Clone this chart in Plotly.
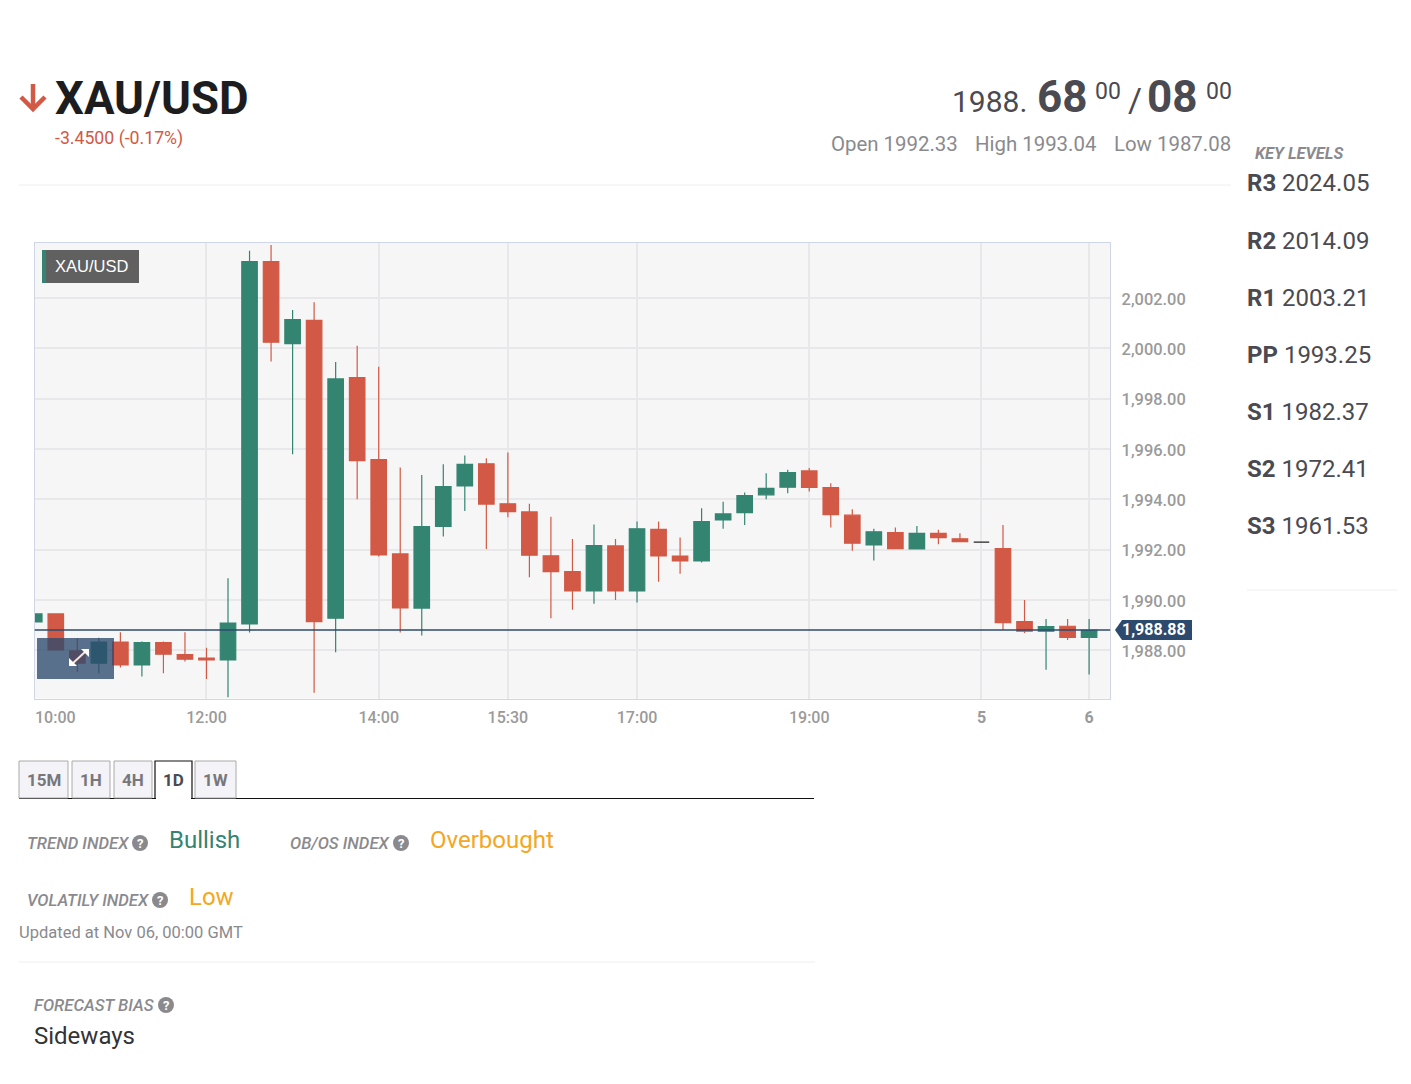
import plotly.graph_objects as go

# candle values, index 0..49 left to right
opens = [1989.13, 1989.45, 1987.98, 1987.49, 1988.33, 1987.42, 1988.31, 1987.83, 1987.69, 1987.62,
         1989.05, 2003.44, 2000.18, 2001.11, 1989.28, 1998.83, 1995.58, 1991.83, 1989.68, 1992.92,
         1994.53, 1995.41, 1993.82, 1993.50, 1991.76, 1991.13, 1990.36, 1992.15, 1990.36, 1992.81,
         1991.75, 1991.55, 1993.18, 1993.47, 1994.18, 1994.48, 1995.13, 1994.47, 1993.37, 1992.19,
         1992.68, 1992.03, 1992.65, 1992.43, 1992.30, 1992.04, 1989.14, 1988.76, 1988.96, 1988.52]
closes = [1989.45, 1988.02, 1987.49, 1988.33, 1987.42, 1988.31, 1987.85, 1987.65, 1987.62, 1989.08,
          2003.44, 2000.24, 2001.14, 1989.14, 1998.78, 1995.54, 1991.79, 1989.69, 1992.92, 1994.51,
          1995.39, 1993.81, 1993.51, 1991.78, 1991.13, 1990.36, 1992.16, 1990.36, 1992.83, 1991.75,
          1991.55, 1993.12, 1993.42, 1994.15, 1994.44, 1995.06, 1994.47, 1993.39, 1992.26, 1992.71,
          1992.04, 1992.65, 1992.48, 1992.32, 1992.30, 1989.10, 1988.76, 1988.95, 1988.52, 1988.80]
highs = [1989.78, 1989.45, 1988.48, 1988.50, 1988.72, 1988.35, 1988.35, 1988.72, 1988.11, 1990.87,
         2003.87, 2004.10, 2001.52, 2001.83, 1999.45, 2000.10, 1999.27, 1995.26, 1994.97, 1995.39,
         1995.74, 1995.63, 1995.86, 1993.82, 1993.31, 1992.42, 1993.00, 1992.42, 1993.12, 1993.12,
         1992.48, 1993.65, 1993.90, 1994.27, 1995.04, 1995.17, 1995.24, 1994.64, 1993.61, 1992.83,
         1992.88, 1992.94, 1992.79, 1992.65, 1992.30, 1992.98, 1990.00, 1989.25, 1989.25, 1989.25]
lows = [1988.89, 1988.02, 1987.15, 1987.09, 1987.32, 1986.96, 1987.09, 1987.56, 1986.86, 1986.14,
        1988.71, 1999.47, 1995.79, 1986.32, 1987.93, 1994.00, 1991.73, 1988.71, 1988.59, 1992.52,
        1993.54, 1992.03, 1993.29, 1990.91, 1989.28, 1989.61, 1989.85, 1990.00, 1989.90, 1990.73,
        1991.04, 1991.49, 1992.83, 1992.98, 1994.00, 1994.24, 1994.31, 1992.88, 1991.96, 1991.57,
        1992.04, 1992.03, 1992.22, 1992.32, 1992.30, 1988.81, 1988.69, 1987.23, 1988.41, 1987.04]
flat_candle = 44
last_line = 1988.81
last_label = "1,988.88"

x_ticks = [8, 16, 22, 28, 36, 44, 49]
x_labels = ["12:00", "14:00", "15:30", "17:00", "19:00", "<b>5</b>", "<b>6</b>"]
y_ticks = [1988, 1990, 1992, 1994, 1996, 1998, 2000, 2002]

pivots = [("R3", "2024.05"), ("R2", "2014.09"), ("R1", "2003.21"), ("PP", "1993.25"),
          ("S1", "1982.37"), ("S2", "1972.41"), ("S3", "1961.53")]
pivot_y = [183, 241, 298, 355, 412, 469, 526]
tabs = [("15M", 19, 68), ("1H", 72, 110), ("4H", 114, 152), ("1D", 155, 192), ("1W", 195, 236)]

W, H = 1411, 1084
GREEN = "#348472"
RED = "#d25945"
GREY = "#8a8a8e"
ORANGE = "#f5a623"
NAVY = "#2c4a6e"
FONT = "Roboto"


def px(x):
    return x / W


def py(y):
    return 1 - y / H


def label(x, y, s, size, color, anchor="left", weight=400, style="normal", family=FONT):
    return dict(x=px(x), y=py(y), xref="paper", yref="paper", text=s, showarrow=False,
                xanchor=anchor, yanchor="middle", borderpad=0,
                font=dict(family=family, size=size, color=color, weight=weight, style=style))


def box(x0, y0, x1, y1, fill, line=None, width=0, layer="above"):
    return dict(type="rect", xref="paper", yref="paper", x0=px(x0), x1=px(x1), y0=py(y0), y1=py(y1),
                fillcolor=fill, line=dict(color=line or fill, width=width), layer=layer)


def rule(x0, y0, x1, y1, color, width=1):
    return dict(type="line", xref="paper", yref="paper", x0=px(x0), x1=px(x1), y0=py(y0), y1=py(y1),
                line=dict(color=color, width=width), layer="above")


def path(points, color, width=0, fill=None):
    d = "M " + " L ".join(f"{px(a):.5f},{py(b):.5f}" for a, b in points)
    if fill:
        d += " Z"
    return dict(type="path", xref="paper", yref="paper", path=d, layer="above",
                fillcolor=fill or "rgba(0,0,0,0)", line=dict(color=color, width=width))


def help_icon(x, y):
    shapes.append(dict(type="circle", xref="paper", yref="paper", x0=px(x - 8), x1=px(x + 8),
                       y0=py(y + 8), y1=py(y - 8), fillcolor=GREY, line=dict(width=0), layer="above"))
    notes.append(label(x, y, "?", 13, "white", "center", 700))


idx = [i for i in range(len(opens)) if i != flat_candle]

fig = go.Figure()
fig.add_trace(go.Candlestick(
    x=idx,
    open=[opens[i] for i in idx],
    high=[highs[i] for i in idx],
    low=[lows[i] for i in idx],
    close=[closes[i] for i in idx],
    whiskerwidth=0,
    increasing=dict(line=dict(color=GREEN, width=1.2), fillcolor=GREEN),
    decreasing=dict(line=dict(color=RED, width=1.2), fillcolor=RED),
    showlegend=False,
))
fig.add_trace(go.Candlestick(
    x=[flat_candle],
    open=[opens[flat_candle]],
    high=[highs[flat_candle]],
    low=[lows[flat_candle]],
    close=[closes[flat_candle]],
    whiskerwidth=0,
    increasing=dict(line=dict(color="#222222", width=1.2), fillcolor="#222222"),
    decreasing=dict(line=dict(color="#222222", width=1.2), fillcolor="#222222"),
    showlegend=False,
))

shapes = [
    rule(19, 185, 1231, 185, "#eeeeee"),
    rule(1247, 590, 1397, 590, "#eeeeee"),
    rule(19, 962, 815, 962, "#eeeeee"),
    path([(33, 84), (33, 108)], RED, 4.5),
    path([(21, 97), (33, 109), (45, 97)], RED, 4.5),
    # latest price line and tag
    dict(type="line", xref="x domain", yref="y", x0=0, x1=1, y0=last_line, y1=last_line,
         line=dict(color=NAVY, width=1.5), layer="above"),
    path([(1115, 630), (1122, 620), (1192, 620), (1192, 640), (1122, 640)], NAVY, 0, NAVY),
    # chart name badge
    box(42, 250, 139, 283, "#606060"),
    box(42, 250, 46, 283, GREEN),
    # expand button
    box(37, 638, 114, 679, "rgba(44,74,110,0.78)"),
    path([(72, 664), (86, 651)], "#f4e6dc", 2),
    path([(81, 649), (89, 649), (89, 657)], "#ffffff", 0, "#ffffff"),
    path([(69, 658), (69, 666), (77, 666)], "#ffffff", 0, "#ffffff"),
    # tab strip baseline
    rule(19, 798.5, 814, 798.5, "#111111", 1.2),
]
notes = [
    label(54, 98, "XAU/USD", 45.5, "#1d1d20", weight=700),
    label(54, 138.5, "-3.4500 (-0.17%)", 17.7, RED),
    label(1028, 101, "1988.", 30, "#4a4a50", "right"),
    label(1036, 97, "68", 44, "#4a4a50", weight=700),
    label(1094, 92, "00", 23, "#4a4a50"),
    label(1127, 100, "/", 34, "#4a4a50"),
    label(1146, 97, "08", 44, "#4a4a50", weight=700),
    label(1205, 92, "00", 23, "#4a4a50"),
    label(959, 144, "Open 1992.33", 20.4, GREY, "right"),
    label(1097, 144, "High 1993.04", 20.4, GREY, "right"),
    label(1231.5, 144, "Low 1987.08", 20.4, GREY, "right"),
    label(1254, 153, "KEY LEVELS", 16.4, GREY, weight=700, style="italic"),
    label(92, 266, "XAU/USD", 16.5, "white", "center", family="Liberation Sans"),
    label(1154, 629.5, last_label, 16, "white", "center", 700),
    dict(x=0.97, y=py(717), xref="x", yref="paper", text="10:00", showarrow=False, borderpad=0,
         xanchor="center", yanchor="middle", font=dict(family=FONT, size=16, color="#9a9a9a", weight=500)),
    label(26, 843, "TREND INDEX", 16.7, GREY, weight=500, style="italic"),
    label(168, 840, "Bullish", 24, GREEN),
    label(289, 843, "OB/OS INDEX", 16.7, GREY, weight=500, style="italic"),
    label(429, 840, "Overbought", 24, ORANGE),
    label(26, 900, "VOLATILY INDEX", 16.7, GREY, weight=500, style="italic"),
    label(188, 897, "Low", 24, ORANGE),
    label(18, 932, "Updated at Nov 06, 00:00 GMT", 16.5, GREY),
    label(33, 1005, "FORECAST BIAS", 16.7, GREY, weight=500, style="italic"),
    label(33, 1036, "Sideways", 24, "#333338"),
]

for (name, value), y in zip(pivots, pivot_y):
    notes.append(label(1246, y, f"<b>{name}</b> {value}", 24, "#4a4a50"))

for name, x0, x1 in tabs:
    if name == "1D":
        shapes.append(path([(x0, 798), (x0, 761), (x1, 761), (x1, 798)], "#111111", 1.2))
        shapes.append(rule(x0 + 1, 798.5, x1 - 1, 798.5, "#ffffff", 2))
        notes.append(label((x0 + x1) / 2, 780, name, 17, "#4a4a50", "center", 700))
    else:
        shapes.append(box(x0, 761, x1, 798, "#f3f3f8", "#aaaaaa", 1))
        notes.append(label((x0 + x1) / 2, 780, name, 17, "#77777c", "center", 700))

help_icon(140, 843)
help_icon(401, 843)
help_icon(160, 900)
help_icon(166, 1005)

fig.update_layout(
    width=W,
    height=H,
    margin=dict(l=0, r=0, t=0, b=0),
    autosize=False,
    paper_bgcolor="white",
    plot_bgcolor="#f6f6f6",
    boxgap=0.28,
    boxgroupgap=0,
    shapes=shapes,
    annotations=notes,
    showlegend=False,
    font=dict(family=FONT),
    xaxis=dict(
        domain=[px(34.7), px(1110.2)],
        range=[0.02, 49.98],
        rangeslider=dict(visible=False),
        tickmode="array",
        tickvals=x_ticks,
        ticktext=x_labels,
        tickfont=dict(size=16, color="#9a9a9a", weight=500),
        ticks="outside",
        ticklen=4,
        tickcolor="rgba(0,0,0,0)",
        showgrid=True,
        gridcolor="#e8e8ea",
        gridwidth=1.5,
        zeroline=False,
        showline=True,
        mirror=True,
        linecolor="#cfd6e8",
        linewidth=1.2,
    ),
    yaxis=dict(
        domain=[py(698.5), py(242.5)],
        range=[1986.09, 2004.20],
        side="right",
        tickmode="array",
        tickvals=y_ticks,
        tickformat=",.2f",
        tickfont=dict(size=16.4, color="#9a9a9a", weight=500),
        ticks="outside",
        ticklen=7,
        tickcolor="rgba(0,0,0,0)",
        ticklabelshift=1,
        showgrid=True,
        gridcolor="#e8e8ea",
        gridwidth=1.5,
        zeroline=False,
        showline=True,
        mirror=True,
        linecolor="#cfd6e8",
        linewidth=1.2,
    ),
)

fig.write_html("out.html", config=dict(displayModeBar=False),
               post_script="document.body.style.margin = '0';")
